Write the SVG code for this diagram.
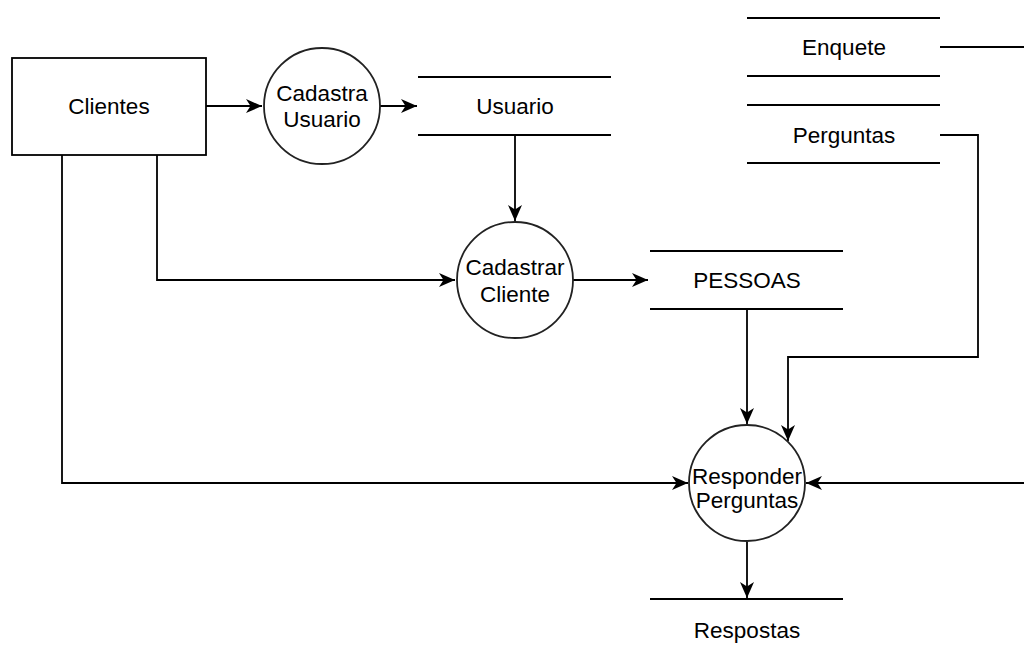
<svg xmlns="http://www.w3.org/2000/svg" width="1024" height="653" viewBox="0 0 1024 653">
<style>
.shape{fill:#fff;stroke:#000;stroke-width:1.8}
.proc{fill:#fff;stroke:#222;stroke-width:1.8}
.store{stroke:#000;stroke-width:1.8;fill:none}
.edge{fill:none;stroke:#000;stroke-width:1.8}
text{font-family:"Liberation Sans",Arial,sans-serif;font-size:22.5px;fill:#000;text-anchor:middle}
</style>
<defs>
<marker id="arr" markerUnits="userSpaceOnUse" markerWidth="18" markerHeight="16" refX="16" refY="7.5" orient="auto">
<path d="M0,0.5 L16,7.5 L0,14.5 L4.5,7.5 z" fill="#000"/>
</marker>
</defs>
<rect width="1024" height="653" fill="#fff"/>
<g id="connectors">
<path class="edge" d="M206,106 H262" marker-end="url(#arr)"/>
<path class="edge" d="M380,106 H417" marker-end="url(#arr)"/>
<path class="edge" d="M515,135 V221" marker-end="url(#arr)"/>
<path class="edge" d="M157,155 V280 H455" marker-end="url(#arr)"/>
<path class="edge" d="M573,280 H648" marker-end="url(#arr)"/>
<path class="edge" d="M747,309 V424" marker-end="url(#arr)"/>
<path class="edge" d="M940,135 H978 V357 H788 V441" marker-end="url(#arr)"/>
<path class="edge" d="M940,47 H1040 V483 H806" marker-end="url(#arr)"/>
<path class="edge" d="M62,155 V483 H688" marker-end="url(#arr)"/>
<path class="edge" d="M747,542 V598" marker-end="url(#arr)"/>
</g>
<g id="clientes">
<rect class="shape" x="12" y="58" width="194" height="97"/>
<text x="109" y="114">Clientes</text>
</g>
<g id="cadastra-usuario">
<circle class="proc" cx="322" cy="106" r="58"/>
<text x="322" y="101">Cadastra</text>
<text x="322" y="127">Usuario</text>
</g>
<g id="usuario">
<line class="store" x1="418" y1="77" x2="611" y2="77"/>
<line class="store" x1="418" y1="135" x2="611" y2="135"/>
<text x="515" y="114">Usuario</text>
</g>
<g id="enquete">
<line class="store" x1="747" y1="18" x2="940" y2="18"/>
<line class="store" x1="747" y1="76" x2="940" y2="76"/>
<text x="844" y="55">Enquete</text>
</g>
<g id="perguntas">
<line class="store" x1="747" y1="105" x2="940" y2="105"/>
<line class="store" x1="747" y1="163" x2="940" y2="163"/>
<text x="844" y="143">Perguntas</text>
</g>
<g id="cadastrar-cliente">
<circle class="proc" cx="515" cy="280" r="58"/>
<text x="515" y="275">Cadastrar</text>
<text x="515" y="302">Cliente</text>
</g>
<g id="pessoas">
<line class="store" x1="650" y1="251" x2="843" y2="251"/>
<line class="store" x1="650" y1="309" x2="843" y2="309"/>
<text x="747" y="288">PESSOAS</text>
</g>
<g id="responder-perguntas">
<circle class="proc" cx="747" cy="483" r="58"/>
<text x="747" y="484">Responder</text>
<text x="747" y="508">Perguntas</text>
</g>
<g id="respostas">
<line class="store" x1="650" y1="599" x2="843" y2="599"/>
<line class="store" x1="650" y1="657" x2="843" y2="657"/>
<text x="747" y="638">Respostas</text>
</g>
</svg>
